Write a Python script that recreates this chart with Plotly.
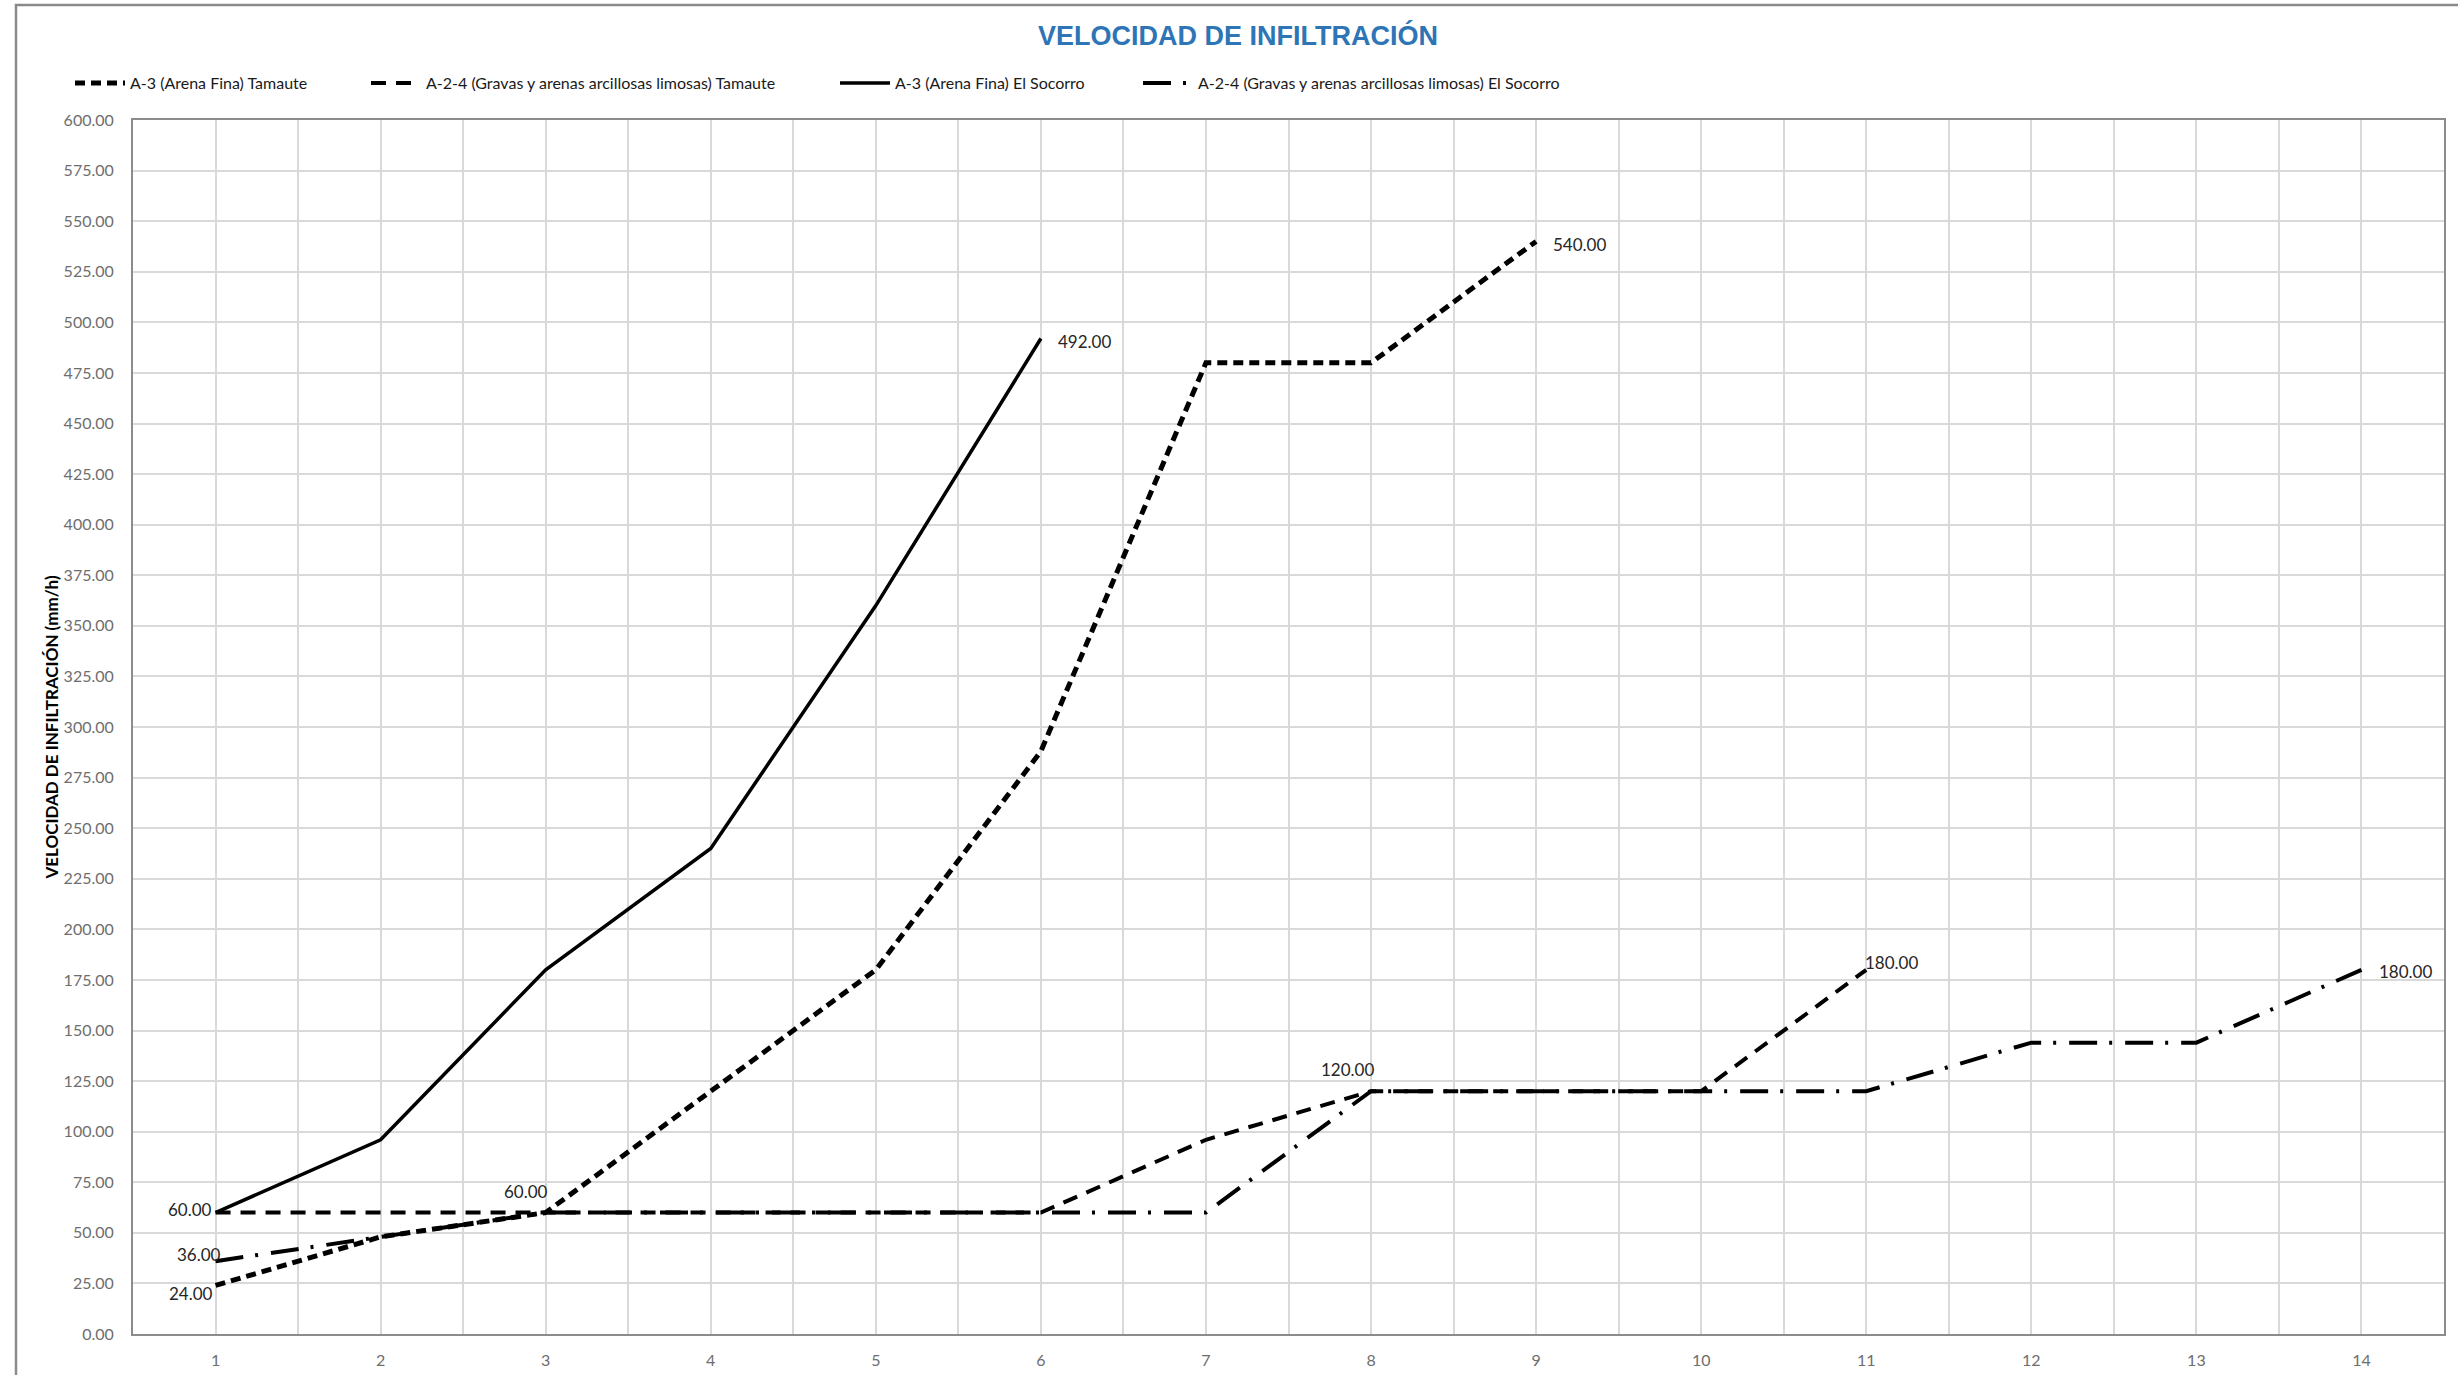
import plotly.graph_objects as go

# Ensayos (eje X) y velocidades de infiltración medidas (mm/h)
ensayos = list(range(1, 15))
a3_tamaute = [24, 48, 60, 120, 180, 288, 480, 480, 540]
a24_tamaute = [60, 60, 60, 60, 60, 60, 96, 120, 120, 120, 180]
a3_socorro = [60, 96, 180, 240, 360, 492]
a24_socorro = [36, 48, 60, 60, 60, 60, 60, 120, 120, 120, 120, 144, 144, 180]

nombres = [
    "A-3 (Arena Fina) Tamaute",
    "A-2-4 (Gravas y arenas arcillosas limosas) Tamaute",
    "A-3 (Arena Fina) El Socorro",
    "A-2-4 (Gravas y arenas arcillosas limosas) El Socorro",
]
valores = [a3_tamaute, a24_tamaute, a3_socorro, a24_socorro]

titulo = "VELOCIDAD DE INFILTRACIÓN"
titulo_y = "VELOCIDAD DE INFILTRACIÓN (mm/h)"

# Estilo de cada serie: (ancho, patrón de trazo, leyenda, x de la leyenda en px)
estilos = [
    (5.0, "10px,6px", "legend", 70),
    (4.0, "15px,10px", "legend2", 366),
    (3.5, "solid", "legend3", 835),
    (4.0, "28px,12px,3px,13px", "legend4", 1138),
]

# Etiquetas de datos: (serie, índice del punto, anclaje, desplazamiento x, desplazamiento y)
etiquetas = [
    (1, 0, "right", -2, 3),
    (3, 0, "right", 7, 7),
    (0, 0, "right", -1, -8),
    (0, 2, "right", 4, 21),
    (1, 7, "right", 5, 22),
    (1, 10, "left", -3, 7),
    (2, 5, "left", 15, -3),
    (0, 8, "left", 15, -3),
    (3, 13, "left", 16, -2),
]

W, H = 2458, 1375
ML, MR, MT, MB = 133, 14, 120, 41
PW, PH = W - ML - MR, H - MT - MB


def px_x(p):
    return (p - ML) / PW


def px_y(p):
    return (H - MB - p) / PH


fig = go.Figure()
for nombre, vals, (ancho, trazo, ley, _) in zip(nombres, valores, estilos):
    fig.add_trace(go.Scatter(
        x=ensayos[:len(vals)], y=vals, name=nombre, mode="lines",
        line=dict(color="black", width=ancho, dash=trazo),
        legend=ley, hoverinfo="x+y",
    ))

for serie, idx, anclaje, dx, dy in etiquetas:
    v = valores[serie][idx]
    fig.add_annotation(
        x=ensayos[idx], y=v, text=f"{v:.2f}", showarrow=False,
        xanchor=anclaje, yanchor="middle", xshift=dx, yshift=dy,
        font=dict(family="Lato", size=17, color="#262626"),
    )

# Marcas del eje X: cada ensayo con línea de cuadrícula intermedia
ticks_x, textos_x = [], []
for e in ensayos:
    ticks_x += [e, e + 0.5]
    textos_x += [str(e), ""]

leyendas = {}
for (_, _, ley, xpx) in estilos:
    leyendas[ley] = dict(
        x=px_x(xpx), y=px_y(83), xanchor="left", yanchor="middle",
        orientation="h", itemwidth=50, bgcolor="rgba(0,0,0,0)",
        font=dict(family="Lato", size=16, color="#1a1a1a"),
        itemclick=False, itemdoubleclick=False,
    )

fig.update_layout(
    width=W, height=H,
    margin=dict(l=ML, r=MR, t=MT, b=MB, autoexpand=False),
    paper_bgcolor="white", plot_bgcolor="white",
    showlegend=True,
    title=dict(
        text=f"<b>{titulo}</b>", x=px_x(1238), xref="paper", xanchor="center",
        y=1 - 36 / H, yanchor="middle", automargin=False,
        font=dict(family="Liberation Sans", size=27, color="#2E75B6"),
    ),
    xaxis=dict(
        range=[0.5, 14.5], tickvals=ticks_x, ticktext=textos_x,
        showgrid=True, gridcolor="#D9D9D9", gridwidth=1.5,
        showline=True, linecolor="#8C8C8C", linewidth=2, mirror=True,
        ticks="", ticklabelstandoff=11, zeroline=False, automargin=False,
        tickfont=dict(family="Lato", size=16, color="#6E6E6E"),
    ),
    yaxis=dict(
        range=[0, 600], dtick=25, tickformat=".2f",
        showgrid=True, gridcolor="#D9D9D9", gridwidth=1.5,
        showline=True, linecolor="#8C8C8C", linewidth=2, mirror=True,
        ticks="", ticklabelstandoff=14, zeroline=False, automargin=False,
        tickfont=dict(family="Lato", size=16, color="#6E6E6E"),
        title=dict(text=f"<b>{titulo_y}</b>", standoff=1,
                   font=dict(family="Lato", size=17, color="black")),
    ),
    **leyendas,
)

# Borde del área del gráfico
fig.add_shape(
    type="rect", xref="paper", yref="paper",
    x0=px_x(16), x1=px_x(W + 20), y0=px_y(H + 20), y1=px_y(5),
    line=dict(color="#8A8A8A", width=2.5), fillcolor="rgba(0,0,0,0)",
    layer="below",
)

fig.write_html("out.html")
